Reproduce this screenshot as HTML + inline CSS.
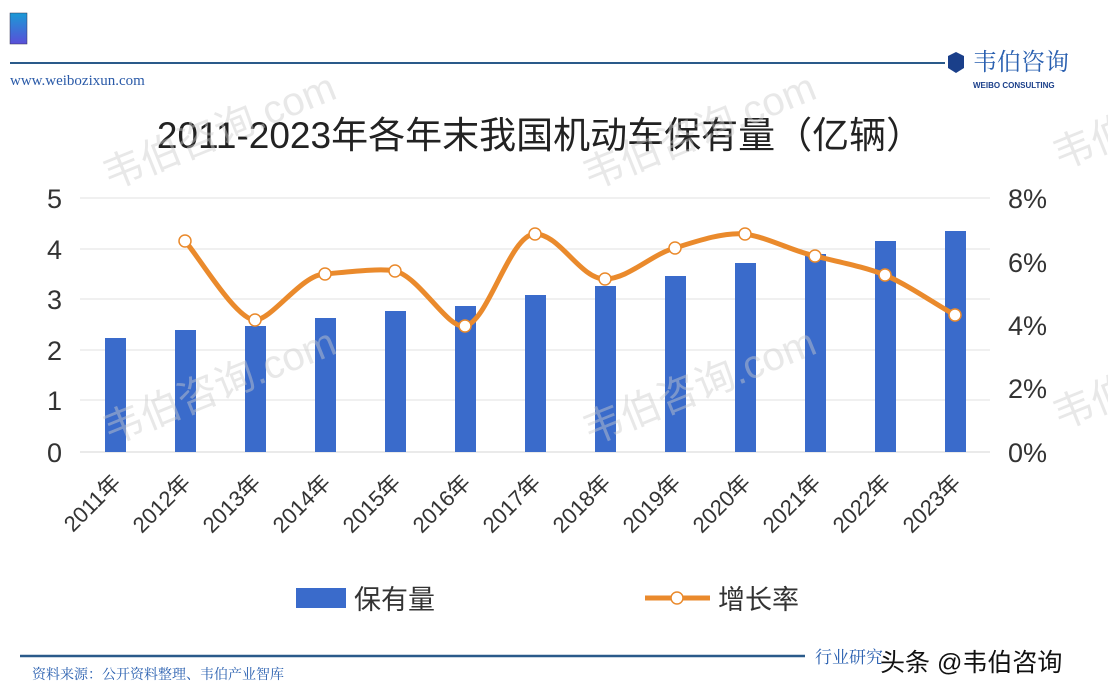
<!DOCTYPE html>
<html><head><meta charset="utf-8"><style>
html,body{margin:0;padding:0;background:#fff;}
body{width:1108px;height:694px;overflow:hidden;position:relative;font-family:"Liberation Sans","Noto Sans CJK SC",sans-serif;}
</style></head><body>
<svg width="1108" height="694" viewBox="0 0 1108 694" xmlns="http://www.w3.org/2000/svg" style="position:absolute;left:0;top:0">
<defs><linearGradient id="g" x1="0" y1="0" x2="0" y2="1"><stop offset="0" stop-color="#1a9ad6"/><stop offset="1" stop-color="#5a4fd8"/></linearGradient></defs>
<rect x="10" y="13" width="17" height="31" fill="url(#g)" stroke="#335" stroke-width="0.5"/>
<line x1="10" y1="63" x2="945" y2="63" stroke="#2a5a8a" stroke-width="2"/>
<polygon points="956,52 964,56 964,68 956,73 948,68 948,56" fill="#1a3f8a"/>
<text x="973" y="70" font-family="Liberation Serif,'Noto Serif CJK SC',serif" font-size="24" fill="#2a60b0">韦伯咨询</text>
<text x="973" y="88" font-size="8" fill="#1a3f8a" font-weight="bold">WEIBO CONSULTING</text>
<text x="10" y="85" font-family="Liberation Serif,serif" font-size="15" fill="#2a5aa8">www.weibozixun.com</text>
<text x="540" y="148" text-anchor="middle" font-size="37" fill="#222">2011-2023年各年末我国机动车保有量（亿辆）</text>
<g stroke="#e2e2e2" stroke-width="1">
<line x1="80" y1="198" x2="990" y2="198"/><line x1="80" y1="249" x2="990" y2="249"/><line x1="80" y1="299" x2="990" y2="299"/><line x1="80" y1="350" x2="990" y2="350"/><line x1="80" y1="400" x2="990" y2="400"/><line x1="80" y1="452" x2="990" y2="452" stroke="#d5d5d5"/>
</g>
<g font-size="27" fill="#333" text-anchor="end">
<text x="62" y="208">5</text><text x="62" y="259">4</text><text x="62" y="309">3</text><text x="62" y="360">2</text><text x="62" y="410">1</text><text x="62" y="462">0</text>
</g>
<g font-size="27" fill="#333">
<text x="1008" y="208">8%</text><text x="1008" y="272">6%</text><text x="1008" y="335">4%</text><text x="1008" y="398">2%</text><text x="1008" y="462">0%</text>
</g>
<g fill="#3a6bcb">
<rect x="105" y="338" width="21" height="114"/>
<rect x="175" y="330" width="21" height="122"/>
<rect x="245" y="326" width="21" height="126"/>
<rect x="315" y="318" width="21" height="134"/>
<rect x="385" y="311" width="21" height="141"/>
<rect x="455" y="306" width="21" height="146"/>
<rect x="525" y="295" width="21" height="157"/>
<rect x="595" y="286" width="21" height="166"/>
<rect x="665" y="276" width="21" height="176"/>
<rect x="735" y="263" width="21" height="189"/>
<rect x="805" y="254" width="21" height="198"/>
<rect x="875" y="241" width="21" height="211"/>
<rect x="945" y="231" width="21" height="221"/>
</g>
<path d="M185,241 C197,254 236,320 255,320 C272,320 302,274 325,274 C348,272 380,268 395,271 C420,277 448,330 465,326 C488,322 510,234 535,234 C560,234 580,279 605,279 C628,279 652,254 675,248 C700,240 725,232 745,234 C770,238 792,251 815,256 C838,262 862,266 885,275 C910,286 935,304 955,315" fill="none" stroke="#ea8a2c" stroke-width="5"/>
<g fill="#fff" stroke="#ea8a2c" stroke-width="1.5">
<circle cx="185" cy="241" r="6"/><circle cx="255" cy="320" r="6"/><circle cx="325" cy="274" r="6"/><circle cx="395" cy="271" r="6"/><circle cx="465" cy="326" r="6"/><circle cx="535" cy="234" r="6"/><circle cx="605" cy="279" r="6"/><circle cx="675" cy="248" r="6"/><circle cx="745" cy="234" r="6"/><circle cx="815" cy="256" r="6"/><circle cx="885" cy="275" r="6"/><circle cx="955" cy="315" r="6"/>
</g>
<g font-size="22" fill="#333" text-anchor="end">
<text transform="translate(122,484) rotate(-45)">2011年</text>
<text transform="translate(192,484) rotate(-45)">2012年</text>
<text transform="translate(262,484) rotate(-45)">2013年</text>
<text transform="translate(332,484) rotate(-45)">2014年</text>
<text transform="translate(402,484) rotate(-45)">2015年</text>
<text transform="translate(472,484) rotate(-45)">2016年</text>
<text transform="translate(542,484) rotate(-45)">2017年</text>
<text transform="translate(612,484) rotate(-45)">2018年</text>
<text transform="translate(682,484) rotate(-45)">2019年</text>
<text transform="translate(752,484) rotate(-45)">2020年</text>
<text transform="translate(822,484) rotate(-45)">2021年</text>
<text transform="translate(892,484) rotate(-45)">2022年</text>
<text transform="translate(962,484) rotate(-45)">2023年</text>
</g>
<rect x="296" y="588" width="50" height="20" fill="#3a6bcb"/>
<text x="354" y="609" font-size="27" fill="#333">保有量</text>
<line x1="645" y1="598" x2="710" y2="598" stroke="#ea8a2c" stroke-width="5"/>
<circle cx="677" cy="598" r="6" fill="#fff" stroke="#ea8a2c" stroke-width="1.5"/>
<text x="718" y="609" font-size="27" fill="#333">增长率</text>
<line x1="20" y1="656" x2="805" y2="656" stroke="#2a5a8a" stroke-width="2.5"/>
<text x="32" y="679" font-family="Liberation Serif,'Noto Serif CJK SC',serif" font-size="14" fill="#2a60b0">资料来源：公开资料整理、韦伯产业智库</text>
<text x="815" y="663" font-family="Liberation Serif,'Noto Serif CJK SC',serif" font-size="17" fill="#2a60b0">行业研究</text>
<text x="880" y="671" font-size="25" fill="#111" stroke="#fff" stroke-width="0.8" paint-order="stroke">头条 @韦伯咨询</text>
<g font-size="40" fill="#ccc" fill-opacity="0.45">
<text transform="translate(110,190) rotate(-22)">韦伯咨询.com</text>
<text transform="translate(590,190) rotate(-22)">韦伯咨询.com</text>
<text transform="translate(110,445) rotate(-22)">韦伯咨询.com</text>
<text transform="translate(590,445) rotate(-22)">韦伯咨询.com</text>
<text transform="translate(1060,170) rotate(-22)">韦伯</text>
<text transform="translate(1060,430) rotate(-22)">韦伯</text>
</g>
</svg>
</body></html>
